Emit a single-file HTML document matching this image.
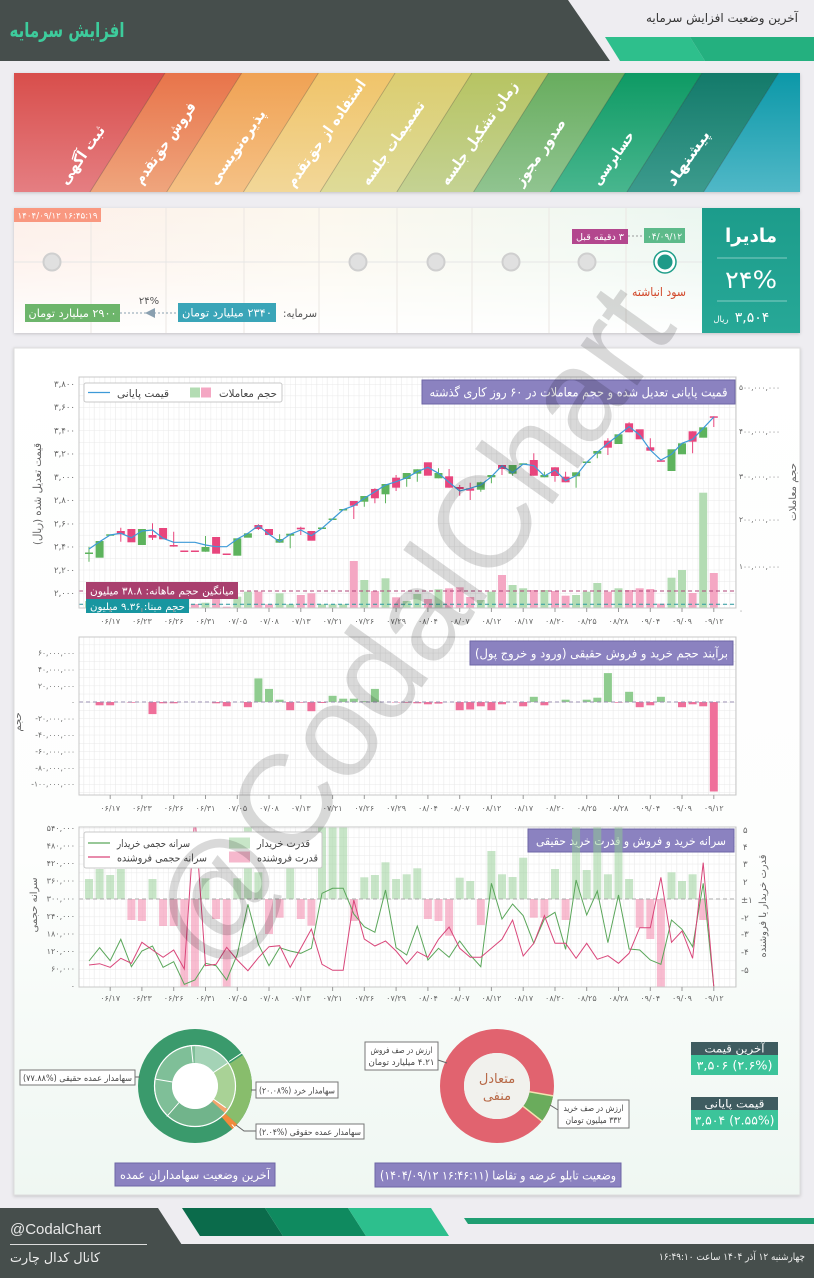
<!DOCTYPE html>
<html><head><meta charset="utf-8">
<style>
html,body{margin:0;padding:0;width:814px;height:1278px;overflow:hidden;background:#eeedf1}
svg{display:block}
.fa{font-family:"DejaVu Sans",sans-serif;direction:rtl}
.n{font-family:"DejaVu Sans",sans-serif}
</style></head><body>
<svg width="814" height="1278" viewBox="0 0 814 1278" xmlns="http://www.w3.org/2000/svg">
<defs>
<linearGradient id="r1" x1="0" y1="0" x2="0" y2="1"><stop offset="0" stop-color="#d84e4b"/><stop offset="1" stop-color="#e57e82"/></linearGradient>
<linearGradient id="r2" x1="0" y1="0" x2="0" y2="1"><stop offset="0" stop-color="#e8744a"/><stop offset="1" stop-color="#efa57d"/></linearGradient>
<linearGradient id="r3" x1="0" y1="0" x2="0" y2="1"><stop offset="0" stop-color="#f0a254"/><stop offset="1" stop-color="#f5c185"/></linearGradient>
<linearGradient id="r4" x1="0" y1="0" x2="0" y2="1"><stop offset="0" stop-color="#f0c46a"/><stop offset="1" stop-color="#f2d798"/></linearGradient>
<linearGradient id="r5" x1="0" y1="0" x2="0" y2="1"><stop offset="0" stop-color="#dccd70"/><stop offset="1" stop-color="#dedb98"/></linearGradient>
<linearGradient id="r6" x1="0" y1="0" x2="0" y2="1"><stop offset="0" stop-color="#b7c462"/><stop offset="1" stop-color="#c4d293"/></linearGradient>
<linearGradient id="r7" x1="0" y1="0" x2="0" y2="1"><stop offset="0" stop-color="#68ad5e"/><stop offset="1" stop-color="#90c490"/></linearGradient>
<linearGradient id="r8" x1="0" y1="0" x2="0" y2="1"><stop offset="0" stop-color="#0e9a64"/><stop offset="1" stop-color="#48b68e"/></linearGradient>
<linearGradient id="r9" x1="0" y1="0" x2="0" y2="1"><stop offset="0" stop-color="#137a6a"/><stop offset="1" stop-color="#3c9b8d"/></linearGradient>
<linearGradient id="r10" x1="0" y1="0" x2="0" y2="1"><stop offset="0" stop-color="#0c98a8"/><stop offset="1" stop-color="#50b8c7"/></linearGradient>
<linearGradient id="ig" x1="0" y1="0" x2="1" y2="0"><stop offset="0" stop-color="#fdefe9"/><stop offset="0.4" stop-color="#fcf8ee"/><stop offset="0.75" stop-color="#f0f8f1"/><stop offset="1" stop-color="#e5f4ee"/></linearGradient>
<linearGradient id="iw" x1="0" y1="0" x2="0" y2="1"><stop offset="0" stop-color="#fff" stop-opacity="0"/><stop offset="0.45" stop-color="#fff" stop-opacity="0.3"/><stop offset="1" stop-color="#fff" stop-opacity="0.95"/></linearGradient>
<linearGradient id="tb" x1="0" y1="0" x2="0" y2="1"><stop offset="0" stop-color="#1c9c8b"/><stop offset="1" stop-color="#27a897"/></linearGradient>
<linearGradient id="mp" x1="0" y1="0" x2="0" y2="1"><stop offset="0" stop-color="#ffffff"/><stop offset="0.6" stop-color="#fdfefd"/><stop offset="1" stop-color="#eff7f2"/></linearGradient>
<clipPath id="rb"><rect x="14" y="73" width="786" height="119"/></clipPath>
<clipPath id="c3"><rect x="79" y="827" width="657" height="160"/></clipPath>
<pattern id="g1" x="89" y="384" width="10.59" height="11.61" patternUnits="userSpaceOnUse"><path d="M0 0V11.61M5.295 0V11.61" stroke="#f1f1f1" stroke-width="1"/><path d="M0 0H10.59" stroke="#e9e9e9" stroke-width="1"/></pattern>
<pattern id="g2" x="89" y="702" width="10.59" height="8.2" patternUnits="userSpaceOnUse"><path d="M0 0V8.2M5.295 0V8.2" stroke="#f1f1f1" stroke-width="1"/><path d="M0 0H10.59" stroke="#e9e9e9" stroke-width="1"/></pattern>
<pattern id="g3" x="89" y="899" width="10.59" height="8.8" patternUnits="userSpaceOnUse"><path d="M0 0V8.8M5.295 0V8.8" stroke="#f1f1f1" stroke-width="1"/><path d="M0 0H10.59" stroke="#e9e9e9" stroke-width="1"/></pattern>
<filter id="sh" x="-5%" y="-5%" width="110%" height="110%"><feDropShadow dx="0" dy="1" stdDeviation="1.5" flood-color="#000" flood-opacity="0.18"/></filter>
</defs>

<rect width="814" height="1278" fill="#eeedf1"/>

<!-- HEADER -->
<polygon points="0,0 568,0 610,61 0,61" fill="#464e4c"/>
<polygon points="605,37 690,37 705,61 620,61" fill="#2ebf8c"/>
<polygon points="690,37 814,37 814,61 705,61" fill="#24b07f"/>
<text x="67" y="37" text-anchor="middle" class="fa" font-size="20" font-weight="bold" fill="#3dcc9c" textLength="115" lengthAdjust="spacingAndGlyphs">افزایش سرمایه</text>
<text x="722" y="22" text-anchor="middle" class="fa" font-size="12" fill="#333" textLength="152" lengthAdjust="spacingAndGlyphs">آخرین وضعیت افزایش سرمایه</text>

<!-- RAINBOW -->
<rect x="14" y="73" width="786" height="119" fill="#fff" filter="url(#sh)"/>
<g clip-path="url(#rb)">
<polygon points="0,73 165,73 90,192 0,192" fill="url(#r1)"/>
<polygon points="165,73 241.7,73 166.7,192 90,192" fill="url(#r2)"/>
<polygon points="241.7,73 318.4,73 243.4,192 166.7,192" fill="url(#r3)"/>
<polygon points="318.4,73 395.1,73 320.1,192 243.4,192" fill="url(#r4)"/>
<polygon points="395.1,73 471.8,73 396.8,192 320.1,192" fill="url(#r5)"/>
<polygon points="471.8,73 548.5,73 473.5,192 396.8,192" fill="url(#r6)"/>
<polygon points="548.5,73 625.2,73 550.2,192 473.5,192" fill="url(#r7)"/>
<polygon points="625.2,73 701.9,73 626.9,192 550.2,192" fill="url(#r8)"/>
<polygon points="701.9,73 778.6,73 703.6,192 626.9,192" fill="url(#r9)"/>
<polygon points="778.6,73 820,73 820,192 703.6,192" fill="url(#r10)"/>
<path d="M165,73L90,192M241.7,73L166.7,192M318.4,73L243.4,192M395.1,73L320.1,192M471.8,73L396.8,192M548.5,73L473.5,192M625.2,73L550.2,192M701.9,73L626.9,192M778.6,73L703.6,192" stroke="#000" stroke-opacity="0.25" stroke-width="0.8"/>
</g>
<g class="fa" font-size="15" font-weight="bold" fill="#fff" text-anchor="middle">
<text transform="translate(82,155) rotate(-55)" y="5" textLength="68" lengthAdjust="spacingAndGlyphs">ثبت آگهی</text>
<text transform="translate(165,143) rotate(-55)" y="5" textLength="96" lengthAdjust="spacingAndGlyphs">فروش حق‌تقدم</text>
<text transform="translate(237,147) rotate(-55)" y="5" textLength="88" lengthAdjust="spacingAndGlyphs">پذیره‌نویسی</text>
<text transform="translate(326,133) rotate(-55)" y="5" textLength="127" lengthAdjust="spacingAndGlyphs">استفاده از حق‌تقدم</text>
<text transform="translate(393,143) rotate(-55)" y="5" textLength="99" lengthAdjust="spacingAndGlyphs">تصمیمات جلسه</text>
<text transform="translate(479,133) rotate(-55)" y="5" textLength="123" lengthAdjust="spacingAndGlyphs">زمان تشکیل جلسه</text>
<text transform="translate(540,152) rotate(-55)" y="5" textLength="78" lengthAdjust="spacingAndGlyphs">صدور مجوز</text>
<text transform="translate(613,158) rotate(-55)" y="5" textLength="62" lengthAdjust="spacingAndGlyphs">حسابرسی</text>
<text transform="translate(688,158) rotate(-55)" y="5" textLength="64" lengthAdjust="spacingAndGlyphs">پیشنهاد</text>
</g>

<!-- INFO PANEL -->
<rect x="14" y="208" width="786" height="125" fill="url(#ig)" filter="url(#sh)"/>
<rect x="14" y="208" width="688" height="125" fill="url(#iw)"/>
<path d="M91,208V333M166,208V333M244,208V333M319,208V333M397,208V333M472,208V333M549,208V333M626,208V333" stroke="#ebe7e3" stroke-width="1"/>
<path d="M14,262H702" stroke="#e6e6e6" stroke-width="1"/>
<g fill="#e0e0e0" stroke="#cfcfcf" stroke-width="2">
<circle cx="52" cy="262" r="8.5"/><circle cx="358" cy="262" r="8.5"/><circle cx="436" cy="262" r="8.5"/><circle cx="511" cy="262" r="8.5"/><circle cx="587" cy="262" r="8.5"/>
</g>
<circle cx="665" cy="262" r="11" fill="#fff" stroke="#1f9e8a" stroke-width="1.5"/>
<circle cx="665" cy="262" r="7.5" fill="#1e9a88"/>
<path d="M628,236H644" stroke="#999" stroke-dasharray="2,2"/>
<rect x="644" y="228" width="41" height="15" fill="#5dba8a"/>
<text x="664.5" y="239.5" text-anchor="middle" class="n" font-size="9" fill="#fff">۰۴/۰۹/۱۲</text>
<rect x="572" y="229" width="56" height="15" fill="#b3478e"/>
<text x="600" y="240" text-anchor="middle" class="fa" font-size="9.5" fill="#fff" textLength="48" lengthAdjust="spacingAndGlyphs">۳ دقیقه قبل</text>
<text x="659" y="296" text-anchor="middle" class="fa" font-size="12" fill="#d24a2c" textLength="54" lengthAdjust="spacingAndGlyphs">سود انباشته</text>
<rect x="14" y="208" width="87" height="14" fill="#f99880"/>
<text x="57.5" y="218.5" text-anchor="middle" class="n" font-size="8.5" fill="#fff" textLength="80" lengthAdjust="spacingAndGlyphs">۱۴۰۴/۰۹/۱۲ ۱۶:۴۵:۱۹</text>
<text x="300" y="317" text-anchor="middle" class="fa" font-size="11" fill="#555" textLength="34" lengthAdjust="spacingAndGlyphs">سرمایه:</text>
<rect x="178" y="303" width="98" height="19" fill="#3aa5b8"/>
<text x="227" y="316.5" text-anchor="middle" class="fa" font-size="11" fill="#fff" textLength="90" lengthAdjust="spacingAndGlyphs">۲۳۴۰ میلیارد تومان</text>
<path d="M120,313H146M154,313H178" stroke="#8aa0b0" stroke-dasharray="2,2"/>
<polygon points="145,313 155,308 155,318" fill="#8aa0b0"/>
<text x="149" y="304" text-anchor="middle" class="n" font-size="10" fill="#555">۲۴%</text>
<rect x="25" y="304" width="95" height="18" fill="#6db56b"/>
<text x="72.5" y="317" text-anchor="middle" class="fa" font-size="11" fill="#fff" textLength="88" lengthAdjust="spacingAndGlyphs">۲۹۰۰ میلیارد تومان</text>
<rect x="702" y="208" width="98" height="125" fill="url(#tb)"/>
<path d="M717,258H787M717,301H787" stroke="#fff" stroke-opacity="0.45" stroke-width="1"/>
<text x="751" y="242" text-anchor="middle" class="fa" font-size="19" font-weight="bold" fill="#fff" textLength="52" lengthAdjust="spacingAndGlyphs">مادیرا</text>
<text x="751" y="288" text-anchor="middle" class="n" font-size="24" fill="#fff" textLength="52" lengthAdjust="spacingAndGlyphs">۲۴%</text>
<text x="752" y="322" text-anchor="middle" class="n" font-size="14" fill="#fff">۳,۵۰۴</text>
<text x="721" y="322" text-anchor="middle" class="fa" font-size="8.5" fill="#fff">ریال</text>

<!-- MAIN PANEL -->
<rect x="14" y="348" width="786" height="847" fill="url(#mp)" stroke="#dedede" filter="url(#sh)"/>

<!-- CHART 1 -->
<rect x="79" y="377" width="657" height="231" fill="#fff"/>
<rect x="79" y="377" width="657" height="231" fill="url(#g1)"/>
<g fill="#b3dcb3">
<rect x="85" y="601" width="8" height="7.5"/><rect x="95.6" y="598" width="8" height="10.5"/><rect x="106.2" y="603" width="8" height="5.5"/><rect x="137.9" y="598" width="8" height="10.5"/>
<rect x="201.5" y="602.7" width="8" height="5.8"/><rect x="233.3" y="596.7" width="8" height="11.8"/><rect x="243.9" y="591.7" width="8" height="16.8"/><rect x="275.6" y="593.3" width="8" height="15.2"/><rect x="286.2" y="604.3" width="8" height="4.2"/>
<rect x="318" y="604.3" width="8" height="4.2"/><rect x="328.6" y="604.3" width="8" height="4.2"/><rect x="339.2" y="604.3" width="8" height="4.2"/><rect x="360.3" y="580" width="8" height="28.5"/><rect x="381.5" y="578.3" width="8" height="30.2"/>
<rect x="402.7" y="601" width="8" height="7.5"/><rect x="413.3" y="594" width="8" height="14.5"/><rect x="434.5" y="589.3" width="8" height="19.2"/><rect x="476.8" y="600" width="8" height="8.5"/><rect x="487.4" y="591.7" width="8" height="16.8"/>
<rect x="508.6" y="585" width="8" height="23.5"/><rect x="519.2" y="588.3" width="8" height="20.2"/><rect x="540.4" y="590" width="8" height="18.5"/><rect x="572.1" y="595" width="8" height="13.5"/><rect x="582.7" y="591.7" width="8" height="16.8"/>
<rect x="593.3" y="583" width="8" height="25.5"/><rect x="614.5" y="588.3" width="8" height="20.2"/><rect x="667.5" y="577.7" width="8" height="30.8"/><rect x="678" y="570" width="8" height="38.5"/><rect x="699.2" y="492.7" width="8" height="115.8"/>
</g>
<g fill="#f4a7c3">
<rect x="116.8" y="600" width="8" height="8.5"/><rect x="127.4" y="596" width="8" height="12.5"/><rect x="148.5" y="601" width="8" height="7.5"/><rect x="159.1" y="597" width="8" height="11.5"/><rect x="169.7" y="603" width="8" height="5.5"/>
<rect x="180.3" y="604" width="8" height="4.5"/><rect x="190.9" y="604" width="8" height="4.5"/><rect x="212.1" y="598.3" width="8" height="10.2"/><rect x="222.7" y="606.7" width="8" height="1.8"/><rect x="254.4" y="591.7" width="8" height="16.8"/>
<rect x="265" y="604.3" width="8" height="4.2"/><rect x="296.8" y="595" width="8" height="13.5"/><rect x="307.4" y="593.3" width="8" height="15.2"/><rect x="349.8" y="561" width="8" height="47.5"/><rect x="370.9" y="591" width="8" height="17.5"/>
<rect x="392.1" y="597.3" width="8" height="11.2"/><rect x="423.9" y="599" width="8" height="9.5"/><rect x="445.1" y="588.3" width="8" height="20.2"/><rect x="455.7" y="587.3" width="8" height="21.2"/><rect x="466.2" y="597" width="8" height="11.5"/>
<rect x="498" y="575" width="8" height="33.5"/><rect x="529.8" y="590" width="8" height="18.5"/><rect x="551" y="591" width="8" height="17.5"/><rect x="561.6" y="595.7" width="8" height="12.8"/><rect x="603.9" y="591.7" width="8" height="16.8"/>
<rect x="625.1" y="590" width="8" height="18.5"/><rect x="635.7" y="588.3" width="8" height="20.2"/><rect x="646.3" y="589" width="8" height="19.5"/><rect x="656.9" y="603.7" width="8" height="4.8"/><rect x="688.6" y="593" width="8" height="15.5"/><rect x="709.8" y="573" width="8" height="35.5"/>
</g>
<path d="M79,591H736" stroke="#b0457a" stroke-dasharray="4,3" stroke-width="1"/>
<path d="M79,604.3H736" stroke="#2a9aa0" stroke-dasharray="4,3" stroke-width="1"/>
<!-- wicks -->
<path stroke="#5db35d" stroke-width="1" d="M89,546.7V561.7M205.5,536V551.7M279.6,534.3V542.7M290.2,533.7V548.3M364.3,496V506.7M385.5,484V503.3M406.7,473V486.7M417.3,469.3V481.7M438.5,468.3V478.3M480.8,481.7V491.7M491.4,475V483.3M512.6,465V475.7M544.4,471.7V477.3M576.1,472.3V487.7M597.3,451V458.3"/>
<path stroke="#e8457d" stroke-width="1" d="M120.8,527.7V541.7M152.5,523.3V540M173.7,531.7V546.7M258.4,524.3V530M300.8,526.7V535M353.8,501V519M374.9,488.3V503.3M396.1,475V491M449.1,469V487.7M459.7,485V495.7M470.2,482.7V500M502,465V475M533.8,453.3V475.7M555,467.3V481.7M565.6,471.7V482.3M607.9,438.3V455M629.1,422.3V432.3M650.3,438.3V450.7M692.6,431.3V453.3M713.8,416.3V427"/>
<g fill="#5db35d">
<rect x="85" y="552.5" width="8" height="1.5"/><rect x="95.6" y="541" width="8" height="16.7"/><rect x="106.2" y="534.3" width="8" height="1.5"/><rect x="137.9" y="529" width="8" height="16"/>
<rect x="201.5" y="547" width="8" height="4.7"/><rect x="233.3" y="538.3" width="8" height="17.4"/><rect x="243.9" y="533.3" width="8" height="4.4"/><rect x="275.6" y="539" width="8" height="3.7"/><rect x="286.2" y="533.7" width="8" height="2"/>
<rect x="318" y="527.5" width="8" height="1.5"/><rect x="328.6" y="518.5" width="8" height="1.5"/><rect x="339.2" y="509" width="8" height="1.5"/><rect x="360.3" y="496" width="8" height="5.7"/><rect x="381.5" y="484" width="8" height="10.3"/>
<rect x="402.7" y="473" width="8" height="6"/><rect x="413.3" y="469.3" width="8" height="4.4"/><rect x="434.5" y="473" width="8" height="5.3"/><rect x="476.8" y="482.3" width="8" height="7.4"/><rect x="487.4" y="475" width="8" height="2.3"/>
<rect x="508.6" y="465" width="8" height="8.7"/><rect x="519.2" y="463.3" width="8" height="1.5"/><rect x="540.4" y="475" width="8" height="2.3"/><rect x="572.1" y="472.3" width="8" height="4"/><rect x="582.7" y="461.5" width="8" height="1.5"/>
<rect x="593.3" y="451" width="8" height="2.7"/><rect x="614.5" y="434.3" width="8" height="9.7"/><rect x="667.5" y="449.3" width="8" height="21.7"/><rect x="678" y="443.3" width="8" height="11"/><rect x="699.2" y="427.3" width="8" height="10.4"/>
</g>
<g fill="#e8457d">
<rect x="116.8" y="531" width="8" height="3.3"/><rect x="127.4" y="529" width="8" height="13.3"/><rect x="148.5" y="535" width="8" height="2.7"/><rect x="159.1" y="528" width="8" height="11.3"/><rect x="169.7" y="545" width="8" height="1.5"/>
<rect x="180.3" y="550.5" width="8" height="1.5"/><rect x="190.9" y="550.5" width="8" height="1.5"/><rect x="212.1" y="537" width="8" height="16.7"/><rect x="222.7" y="553.5" width="8" height="1.5"/><rect x="254.4" y="525" width="8" height="4"/>
<rect x="265" y="529" width="8" height="6"/><rect x="296.8" y="527.7" width="8" height="1.6"/><rect x="307.4" y="531" width="8" height="9.7"/><rect x="349.8" y="501" width="8" height="4.7"/><rect x="370.9" y="489" width="8" height="9.3"/>
<rect x="392.1" y="477.7" width="8" height="10"/><rect x="423.9" y="462.3" width="8" height="13.4"/><rect x="445.1" y="476.3" width="8" height="11.4"/><rect x="455.7" y="487" width="8" height="2"/><rect x="466.2" y="488.3" width="8" height="2.4"/>
<rect x="498" y="465" width="8" height="4"/><rect x="529.8" y="460" width="8" height="15.7"/><rect x="551" y="467.3" width="8" height="8.7"/><rect x="561.6" y="476.7" width="8" height="5.6"/><rect x="603.9" y="440.7" width="8" height="7"/>
<rect x="625.1" y="423.3" width="8" height="9"/><rect x="635.7" y="429.3" width="8" height="10"/><rect x="646.3" y="447.3" width="8" height="3.4"/><rect x="656.9" y="460.3" width="8" height="1.5"/><rect x="688.6" y="431.3" width="8" height="10.4"/><rect x="709.8" y="416.3" width="8" height="1.5"/>
</g>
<polyline fill="none" stroke="#3d9ad8" stroke-width="1.2" points="89,549 99.6,541.7 110.2,535 120.8,533.3 131.4,537.7 141.9,531 152.5,530 163.1,538.3 173.7,542.3 184.3,542.3 194.9,542.3 205.5,545 216.1,546.7 226.7,546.7 237.3,539 247.9,533.3 258.4,525.7 269,534.3 279.6,541.7 290.2,534.3 300.8,530 311.4,535.7 322,528.3 332.6,519 343.2,509.7 353.8,505.7 364.3,498.3 374.9,491.7 385.5,485 396.1,481.7 406.7,477.7 417.3,471.7 427.9,467.3 438.5,473.3 449.1,482.3 459.7,491 470.2,488.3 480.8,485 491.4,476.7 502,465.7 512.6,472.7 523.2,464 533.8,465.7 544.4,476 555,470 565.6,480.7 576.1,475.7 586.7,462.3 597.3,452.3 607.9,443.3 618.5,435 629.1,426.7 639.7,435 650.3,450 660.9,460 671.5,454.3 682,443.3 692.6,439.3 703.2,428.3 713.8,417"/>
<rect x="79" y="377" width="657" height="231" fill="none" stroke="#c8c8c8"/>
<!-- legend 1 -->
<rect x="84" y="383" width="198" height="19" rx="2" fill="#fff" stroke="#c8c8c8"/>
<path d="M88,392.5H110" stroke="#3d9ad8" stroke-width="1.3"/>
<text x="143" y="397" text-anchor="middle" class="fa" font-size="10.5" fill="#444" textLength="52" lengthAdjust="spacingAndGlyphs">قیمت پایانی</text>
<rect x="190" y="387.5" width="10" height="10" fill="#b3dcb3"/><rect x="201" y="387.5" width="10" height="10" fill="#f4a7c3"/>
<text x="248" y="397" text-anchor="middle" class="fa" font-size="10.5" fill="#444" textLength="58" lengthAdjust="spacingAndGlyphs">حجم معاملات</text>
<!-- title 1 -->
<rect x="422" y="380" width="313" height="24" fill="#8b82c0" stroke="#6e66a6"/>
<text x="578.5" y="396.5" text-anchor="middle" class="fa" font-size="12.5" fill="#fff" textLength="298" lengthAdjust="spacingAndGlyphs">قمیت پایانی تعدیل شده و حجم معاملات در ۶۰ روز کاری گذشته</text>
<!-- labels -->
<rect x="86" y="582" width="152" height="17" fill="#a93f6e"/>
<text x="162" y="594.5" text-anchor="middle" class="fa" font-size="10.5" fill="#fff" textLength="144" lengthAdjust="spacingAndGlyphs">میانگین حجم ماهانه: ۳۸.۸ میلیون</text>
<rect x="86" y="599" width="103" height="14" fill="#1896a0"/>
<text x="137.5" y="610" text-anchor="middle" class="fa" font-size="10" fill="#fff" textLength="95" lengthAdjust="spacingAndGlyphs">حجم مبنا: ۹.۳۶ میلیون</text>
<!-- axes 1 -->
<g class="n" font-size="8.5" fill="#666" text-anchor="end">
<text x="75" y="387">۳,۸۰۰</text><text x="75" y="410.2">۳,۶۰۰</text><text x="75" y="433.4">۳,۴۰۰</text><text x="75" y="456.7">۳,۲۰۰</text><text x="75" y="479.9">۳,۰۰۰</text>
<text x="75" y="503.1">۲,۸۰۰</text><text x="75" y="526.3">۲,۶۰۰</text><text x="75" y="549.6">۲,۴۰۰</text><text x="75" y="572.8">۲,۲۰۰</text><text x="75" y="596">۲,۰۰۰</text>
</g>
<g class="n" font-size="7.5" fill="#666">
<text x="739" y="390">۵۰۰,۰۰۰,۰۰۰</text><text x="739" y="434">۴۰۰,۰۰۰,۰۰۰</text><text x="739" y="479">۳۰۰,۰۰۰,۰۰۰</text><text x="739" y="522">۲۰۰,۰۰۰,۰۰۰</text><text x="739" y="569">۱۰۰,۰۰۰,۰۰۰</text><text x="739" y="613">۰</text>
</g>
<text transform="translate(41,494) rotate(-90)" text-anchor="middle" class="fa" font-size="11" fill="#666" textLength="102" lengthAdjust="spacingAndGlyphs">قیمت تعدیل شده (ریال)</text>
<text transform="translate(796,492) rotate(-90)" text-anchor="middle" class="fa" font-size="10" fill="#666" textLength="58" lengthAdjust="spacingAndGlyphs">حجم معاملات</text>
<path stroke="#999" d="M110.2,608V612M141.9,608V612M173.7,608V612M205.5,608V612M237.3,608V612M269,608V612M300.8,608V612M332.6,608V612M364.3,608V612M396.1,608V612M427.9,608V612M459.7,608V612M491.4,608V612M523.2,608V612M555,608V612M586.7,608V612M618.5,608V612M650.3,608V612M682,608V612M713.8,608V612"/>
<g class="n" font-size="8" fill="#666" text-anchor="middle">
<text x="110.2" y="624">۰۶/۱۷</text><text x="141.9" y="624">۰۶/۲۳</text><text x="173.7" y="624">۰۶/۲۶</text><text x="205.5" y="624">۰۶/۳۱</text><text x="237.3" y="624">۰۷/۰۵</text><text x="269" y="624">۰۷/۰۸</text><text x="300.8" y="624">۰۷/۱۳</text><text x="332.6" y="624">۰۷/۲۱</text><text x="364.3" y="624">۰۷/۲۶</text><text x="396.1" y="624">۰۷/۲۹</text>
<text x="427.9" y="624">۰۸/۰۴</text><text x="459.7" y="624">۰۸/۰۷</text><text x="491.4" y="624">۰۸/۱۲</text><text x="523.2" y="624">۰۸/۱۷</text><text x="555" y="624">۰۸/۲۰</text><text x="586.7" y="624">۰۸/۲۵</text><text x="618.5" y="624">۰۸/۲۸</text><text x="650.3" y="624">۰۹/۰۴</text><text x="682" y="624">۰۹/۰۹</text><text x="713.8" y="624">۰۹/۱۲</text>
</g>

<!-- CHART 2 -->
<rect x="79" y="637" width="657" height="158" fill="#fff"/>
<rect x="79" y="637" width="657" height="158" fill="url(#g2)"/>
<rect x="470" y="641" width="263" height="24" fill="#8b82c0" stroke="#6e66a6"/>
<text x="601.5" y="657.5" text-anchor="middle" class="fa" font-size="12" fill="#fff" textLength="253" lengthAdjust="spacingAndGlyphs">برآیند حجم خرید و فروش حقیقی (ورود و خروج پول)</text>
<g fill="#8fcc8f">
<rect x="254.4" y="678.4" width="8" height="23.6"/><rect x="265" y="688.9" width="8" height="13.1"/><rect x="275.6" y="699.7" width="8" height="2.3"/><rect x="328.6" y="695.8" width="8" height="6.2"/><rect x="339.2" y="698.7" width="8" height="3.3"/>
<rect x="349.8" y="698.7" width="8" height="3.3"/><rect x="360.3" y="701.3" width="8" height="0.7"/><rect x="370.9" y="688.9" width="8" height="13.1"/><rect x="529.8" y="696.8" width="8" height="5.2"/><rect x="561.6" y="699.7" width="8" height="2.3"/>
<rect x="582.7" y="699.7" width="8" height="2.3"/><rect x="593.3" y="697.7" width="8" height="4.3"/><rect x="603.9" y="673.1" width="8" height="28.9"/><rect x="625.1" y="691.8" width="8" height="10.2"/><rect x="656.9" y="696.8" width="8" height="5.2"/>
</g>
<g fill="#ef6f9a">
<rect x="95.6" y="702" width="8" height="3.3"/><rect x="106.2" y="702" width="8" height="3.3"/><rect x="127.4" y="702" width="8" height="0.7"/><rect x="148.5" y="702" width="8" height="12.1"/><rect x="159.1" y="702" width="8" height="1.3"/>
<rect x="169.7" y="702" width="8" height="1.3"/><rect x="212.1" y="702" width="8" height="1.3"/><rect x="222.7" y="702" width="8" height="4.3"/><rect x="243.9" y="702" width="8" height="5.2"/><rect x="286.2" y="702" width="8" height="8.2"/>
<rect x="296.8" y="702" width="8" height="0.7"/><rect x="307.4" y="702" width="8" height="9.2"/><rect x="318" y="702" width="8" height="1"/><rect x="392.1" y="702" width="8" height="0.5"/><rect x="402.7" y="702" width="8" height="0.7"/>
<rect x="413.3" y="702" width="8" height="1.3"/><rect x="423.9" y="702" width="8" height="2.3"/><rect x="434.5" y="702" width="8" height="1.6"/><rect x="455.7" y="702" width="8" height="8.2"/><rect x="466.2" y="702" width="8" height="7.5"/>
<rect x="476.8" y="702" width="8" height="4.3"/><rect x="487.4" y="702" width="8" height="8.2"/><rect x="498" y="702" width="8" height="2.3"/><rect x="519.2" y="702" width="8" height="4.3"/><rect x="540.4" y="702" width="8" height="3.3"/>
<rect x="614.5" y="702" width="8" height="0.7"/><rect x="635.7" y="702" width="8" height="5.2"/><rect x="646.3" y="702" width="8" height="3.3"/><rect x="678" y="702" width="8" height="5.2"/><rect x="688.6" y="702" width="8" height="2.3"/>
<rect x="699.2" y="702" width="8" height="4.3"/><rect x="709.8" y="702" width="8" height="89.5"/>
</g>
<path d="M79,702H736" stroke="#9a8fb0" stroke-dasharray="4,3"/>
<rect x="79" y="637" width="657" height="158" fill="none" stroke="#c8c8c8"/>
<g class="n" font-size="7.5" fill="#666" text-anchor="end">
<text x="75" y="655.5">۶۰,۰۰۰,۰۰۰</text><text x="75" y="671.9">۴۰,۰۰۰,۰۰۰</text><text x="75" y="688.3">۲۰,۰۰۰,۰۰۰</text><text x="75" y="704.7">۰</text><text x="75" y="721.1">-۲۰,۰۰۰,۰۰۰</text>
<text x="75" y="737.5">-۴۰,۰۰۰,۰۰۰</text><text x="75" y="753.9">-۶۰,۰۰۰,۰۰۰</text><text x="75" y="770.3">-۸۰,۰۰۰,۰۰۰</text><text x="75" y="786.7">-۱۰۰,۰۰۰,۰۰۰</text>
</g>
<text transform="translate(21,722) rotate(-90)" text-anchor="middle" class="fa" font-size="10" fill="#666">حجم</text>
<path stroke="#999" d="M110.2,795V799M141.9,795V799M173.7,795V799M205.5,795V799M237.3,795V799M269,795V799M300.8,795V799M332.6,795V799M364.3,795V799M396.1,795V799M427.9,795V799M459.7,795V799M491.4,795V799M523.2,795V799M555,795V799M586.7,795V799M618.5,795V799M650.3,795V799M682,795V799M713.8,795V799"/>
<g class="n" font-size="8" fill="#666" text-anchor="middle">
<text x="110.2" y="811">۰۶/۱۷</text><text x="141.9" y="811">۰۶/۲۳</text><text x="173.7" y="811">۰۶/۲۶</text><text x="205.5" y="811">۰۶/۳۱</text><text x="237.3" y="811">۰۷/۰۵</text><text x="269" y="811">۰۷/۰۸</text><text x="300.8" y="811">۰۷/۱۳</text><text x="332.6" y="811">۰۷/۲۱</text><text x="364.3" y="811">۰۷/۲۶</text><text x="396.1" y="811">۰۷/۲۹</text>
<text x="427.9" y="811">۰۸/۰۴</text><text x="459.7" y="811">۰۸/۰۷</text><text x="491.4" y="811">۰۸/۱۲</text><text x="523.2" y="811">۰۸/۱۷</text><text x="555" y="811">۰۸/۲۰</text><text x="586.7" y="811">۰۸/۲۵</text><text x="618.5" y="811">۰۸/۲۸</text><text x="650.3" y="811">۰۹/۰۴</text><text x="682" y="811">۰۹/۰۹</text><text x="713.8" y="811">۰۹/۱۲</text>
</g>

<!-- CHART 3 -->
<rect x="79" y="827" width="657" height="160" fill="#fff"/>
<rect x="79" y="827" width="657" height="160" fill="url(#g3)"/>
<rect x="528" y="829" width="206" height="23" fill="#8b82c0" stroke="#6e66a6"/>
<text x="631" y="845" text-anchor="middle" class="fa" font-size="12" fill="#fff" textLength="190" lengthAdjust="spacingAndGlyphs">سرانه خرید و فروش و قدرت خرید حقیقی</text>
<g fill="#90cc90" fill-opacity="0.5">
<rect x="85" y="879" width="8" height="20"/><rect x="95.6" y="869" width="8" height="30"/><rect x="106.2" y="875" width="8" height="24"/><rect x="116.8" y="869" width="8" height="30"/><rect x="148.5" y="879" width="8" height="20"/>
<rect x="201.5" y="878.3" width="8" height="20.7"/><rect x="233.3" y="878.3" width="8" height="20.7"/><rect x="243.9" y="827" width="8" height="72"/><rect x="254.4" y="872.3" width="8" height="26.7"/><rect x="286.2" y="865" width="8" height="34"/>
<rect x="318" y="827" width="8" height="72"/><rect x="328.6" y="827" width="8" height="72"/><rect x="339.2" y="827" width="8" height="72"/><rect x="360.3" y="877.3" width="8" height="21.7"/><rect x="370.9" y="875" width="8" height="24"/>
<rect x="381.5" y="862.3" width="8" height="36.7"/><rect x="392.1" y="879" width="8" height="20"/><rect x="402.7" y="874.3" width="8" height="24.7"/><rect x="413.3" y="868.3" width="8" height="30.7"/><rect x="455.7" y="877.7" width="8" height="21.3"/>
<rect x="466.2" y="881" width="8" height="18"/><rect x="487.4" y="851" width="8" height="48"/><rect x="498" y="874.3" width="8" height="24.7"/><rect x="508.6" y="877" width="8" height="22"/><rect x="519.2" y="857.7" width="8" height="41.3"/>
<rect x="551" y="869" width="8" height="30"/><rect x="572.1" y="827" width="8" height="72"/><rect x="582.7" y="870" width="8" height="29"/><rect x="593.3" y="827" width="8" height="72"/><rect x="603.9" y="874.3" width="8" height="24.7"/>
<rect x="614.5" y="827" width="8" height="72"/><rect x="625.1" y="879" width="8" height="20"/><rect x="667.5" y="872.3" width="8" height="26.7"/><rect x="678" y="881" width="8" height="18"/><rect x="688.6" y="874.3" width="8" height="24.7"/>
</g>
<g fill="#f17aa1" fill-opacity="0.5">
<rect x="127.4" y="899" width="8" height="21"/><rect x="137.9" y="899" width="8" height="22"/><rect x="159.1" y="899" width="8" height="27"/><rect x="169.7" y="899" width="8" height="27"/><rect x="180.3" y="899" width="8" height="88"/>
<rect x="190.9" y="899" width="8" height="88"/><rect x="212.1" y="899" width="8" height="20"/><rect x="222.7" y="899" width="8" height="88"/><rect x="265" y="899" width="8" height="35"/><rect x="275.6" y="899" width="8" height="18.7"/>
<rect x="296.8" y="899" width="8" height="20"/><rect x="307.4" y="899" width="8" height="26.7"/><rect x="349.8" y="899" width="8" height="22"/><rect x="423.9" y="899" width="8" height="20"/><rect x="434.5" y="899" width="8" height="22"/>
<rect x="445.1" y="899" width="8" height="36.7"/><rect x="476.8" y="899" width="8" height="26"/><rect x="529.8" y="899" width="8" height="18.7"/><rect x="540.4" y="899" width="8" height="18.7"/><rect x="561.6" y="899" width="8" height="21"/>
<rect x="635.7" y="899" width="8" height="28.7"/><rect x="646.3" y="899" width="8" height="40"/><rect x="656.9" y="899" width="8" height="88"/><rect x="699.2" y="899" width="8" height="21"/>
</g>
<path d="M79,899H736" stroke="#aaa" stroke-dasharray="4,3"/>
<g clip-path="url(#c3)" fill="none" stroke-width="1">
<polyline stroke="#5aa65a" points="89,961 99.6,947.7 110.2,960.7 120.8,939.3 131.4,966.7 141.9,951 152.5,946 163.1,967.3 173.7,961.7 184.3,984.3 194.9,980 205.5,963.3 216.1,965.7 226.7,980 237.3,954.3 247.9,904.3 258.4,944.3 269,965.7 279.6,947.7 290.2,951 300.8,953.3 311.4,948.3 322,893.3 332.6,888.3 343.2,888.3 353.8,914 364.3,926.7 374.9,932.3 385.5,890 396.1,947.7 406.7,955 417.3,926 427.9,960 438.5,948.3 449.1,957.3 459.7,941 470.2,955 480.8,966.7 491.4,883.3 502,919 512.6,904 523.2,915.7 533.8,943.3 544.4,919 555,912.3 565.6,949.3 576.1,880 586.7,915 597.3,891 607.9,942.7 618.5,895 629.1,949 639.7,950 650.3,960 660.9,964.3 671.5,920 682,929.3 692.6,946.7 703.2,883.3 713.8,986.7"/>
<polyline stroke="#d9467a" points="89,965 99.6,963.7 110.2,967.3 120.8,958.3 131.4,963.3 141.9,942.3 152.5,950 163.1,957.3 173.7,950 184.3,969 194.9,815 205.5,965.7 216.1,964.3 226.7,947.3 237.3,960 247.9,970.7 258.4,957.7 269,946.7 279.6,945.7 290.2,967.3 300.8,948.3 311.4,929 322,964.3 332.6,970.3 343.2,970.3 353.8,900 364.3,939 374.9,946 385.5,941 396.1,951 406.7,964 417.3,951.7 427.9,957.3 438.5,939.3 449.1,927 459.7,948.3 470.2,957.3 480.8,957.3 491.4,948.3 502,939.3 512.6,920 523.2,956 533.8,943.3 544.4,915.7 555,943.3 565.6,943.3 576.1,958.3 586.7,943.3 597.3,959.3 607.9,955.7 618.5,963.3 629.1,953.3 639.7,927.7 650.3,927.7 660.9,877.3 671.5,942.3 682,931 692.6,958.3 703.2,862.7 713.8,986.7"/>
</g>
<rect x="79" y="827" width="657" height="160" fill="none" stroke="#c8c8c8"/>
<!-- legend 3 -->
<rect x="84" y="832" width="238" height="36" rx="2" fill="#fff" stroke="#c8c8c8"/>
<path d="M88,843H110" stroke="#5aa65a" stroke-width="1.2"/>
<path d="M88,857H110" stroke="#d9467a" stroke-width="1.2"/>
<text x="153.5" y="847" text-anchor="middle" class="fa" font-size="10.5" fill="#444" textLength="73" lengthAdjust="spacingAndGlyphs">سرانه حجمی خریدار</text>
<text x="162" y="861.5" text-anchor="middle" class="fa" font-size="10.5" fill="#444" textLength="90" lengthAdjust="spacingAndGlyphs">سرانه حجمی فروشنده</text>
<rect x="229" y="837.5" width="21" height="11" fill="#c8e6c8"/>
<rect x="229" y="851.5" width="21" height="11" fill="#f6b8cd"/>
<text x="283.5" y="847" text-anchor="middle" class="fa" font-size="10.5" fill="#444" textLength="53" lengthAdjust="spacingAndGlyphs">قدرت خریدار</text>
<text x="287.5" y="861.5" text-anchor="middle" class="fa" font-size="10.5" fill="#444" textLength="61" lengthAdjust="spacingAndGlyphs">قدرت فروشنده</text>
<g class="n" font-size="8" fill="#666" text-anchor="end">
<text x="75" y="831">۵۴۰,۰۰۰</text><text x="75" y="848.6">۴۸۰,۰۰۰</text><text x="75" y="866.1">۴۲۰,۰۰۰</text><text x="75" y="883.7">۳۶۰,۰۰۰</text><text x="75" y="901.3">۳۰۰,۰۰۰</text>
<text x="75" y="918.9">۲۴۰,۰۰۰</text><text x="75" y="936.5">۱۸۰,۰۰۰</text><text x="75" y="954.1">۱۲۰,۰۰۰</text><text x="75" y="971.6">۶۰,۰۰۰</text><text x="75" y="989.2">۰</text>
</g>
<g class="n" font-size="8.5" fill="#666">
<text x="743" y="833">۵</text><text x="743" y="850">۴</text><text x="743" y="867">۳</text><text x="743" y="885">۲</text><text x="741" y="903">±۱</text>
<text x="741" y="921">-۲</text><text x="741" y="937">-۳</text><text x="741" y="955">-۴</text><text x="741" y="973">-۵</text>
</g>
<text transform="translate(37,905) rotate(-90)" text-anchor="middle" class="fa" font-size="10" fill="#666" textLength="55" lengthAdjust="spacingAndGlyphs">سرانه حجمی</text>
<text transform="translate(766,906) rotate(-90)" text-anchor="middle" class="fa" font-size="10" fill="#666" textLength="103" lengthAdjust="spacingAndGlyphs">قدرت خریدار یا فروشنده</text>
<path stroke="#999" d="M110.2,987V991M141.9,987V991M173.7,987V991M205.5,987V991M237.3,987V991M269,987V991M300.8,987V991M332.6,987V991M364.3,987V991M396.1,987V991M427.9,987V991M459.7,987V991M491.4,987V991M523.2,987V991M555,987V991M586.7,987V991M618.5,987V991M650.3,987V991M682,987V991M713.8,987V991"/>
<g class="n" font-size="8" fill="#666" text-anchor="middle">
<text x="110.2" y="1001">۰۶/۱۷</text><text x="141.9" y="1001">۰۶/۲۳</text><text x="173.7" y="1001">۰۶/۲۶</text><text x="205.5" y="1001">۰۶/۳۱</text><text x="237.3" y="1001">۰۷/۰۵</text><text x="269" y="1001">۰۷/۰۸</text><text x="300.8" y="1001">۰۷/۱۳</text><text x="332.6" y="1001">۰۷/۲۱</text><text x="364.3" y="1001">۰۷/۲۶</text><text x="396.1" y="1001">۰۷/۲۹</text>
<text x="427.9" y="1001">۰۸/۰۴</text><text x="459.7" y="1001">۰۸/۰۷</text><text x="491.4" y="1001">۰۸/۱۲</text><text x="523.2" y="1001">۰۸/۱۷</text><text x="555" y="1001">۰۸/۲۰</text><text x="586.7" y="1001">۰۸/۲۵</text><text x="618.5" y="1001">۰۸/۲۸</text><text x="650.3" y="1001">۰۹/۰۴</text><text x="682" y="1001">۰۹/۰۹</text><text x="713.8" y="1001">۰۹/۱۲</text>
</g>

<!-- DONUT 1 -->
<g transform="rotate(-90 195 1086)" fill="none">
<circle cx="195" cy="1086" r="49" stroke="#3a9a6c" stroke-width="16"/>
<circle cx="195" cy="1086" r="49" stroke="#88bd6c" stroke-width="16" stroke-dasharray="64.15 1000" stroke-dashoffset="-48.75"/>
<circle cx="195" cy="1086" r="49" stroke="#f08a3c" stroke-width="16" stroke-dasharray="5.99 1000" stroke-dashoffset="-112.9"/>
<circle cx="195" cy="1086" r="31.5" stroke="#7fbf98" stroke-width="17"/>
<circle cx="195" cy="1086" r="31.5" stroke="#9acbb0" stroke-width="17" stroke-dasharray="35.74 1000" stroke-dashoffset="153.94"/>
<circle cx="195" cy="1086" r="31.5" stroke="#a4d3b6" stroke-width="17" stroke-dasharray="32.99 1000" stroke-dashoffset="2.75"/>
<circle cx="195" cy="1086" r="31.5" stroke="#a9d296" stroke-width="17" stroke-dasharray="38.49 1000" stroke-dashoffset="-30.24"/>
<circle cx="195" cy="1086" r="31.5" stroke="#f2a46c" stroke-width="17" stroke-dasharray="3.85 1000" stroke-dashoffset="-68.72"/>
<circle cx="195" cy="1086" r="31.5" stroke="#71b48b" stroke-width="17" stroke-dasharray="51.13 1000" stroke-dashoffset="-72.57"/>
</g>
<circle cx="195" cy="1086" r="40.5" fill="none" stroke="#fff" stroke-width="1.2"/>
<path stroke="#fff" stroke-width="1" d="M229.2,1061.5L242.6,1052.6M231.8,1124.4L236,1129M191.2,1045.4L193,1062.5M213,1072.8L227.4,1063.3M211.7,1097.9L225.7,1107.7M179,1102.6L166.8,1116.4M172.5,1082L155.6,1079.1"/>
<circle cx="195" cy="1086" r="23" fill="#fff"/>
<path d="M135,1077H140" stroke="#666"/>
<rect x="20" y="1070" width="115" height="15" fill="#fff" stroke="#777"/>
<text x="77.5" y="1081" text-anchor="middle" class="fa" font-size="8.5" fill="#444" textLength="109" lengthAdjust="spacingAndGlyphs">سهامدار عمده حقیقی (%۷۷.۸۸)</text>
<path d="M251,1090H256" stroke="#666"/>
<rect x="256" y="1082" width="82" height="16" fill="#fff" stroke="#777"/>
<text x="297" y="1093.5" text-anchor="middle" class="fa" font-size="8.5" fill="#444" textLength="76" lengthAdjust="spacingAndGlyphs">سهامدار خرد (%۲۰.۰۸)</text>
<path d="M236,1125L244,1131H256" stroke="#666" fill="none"/>
<rect x="256" y="1124" width="108" height="15" fill="#fff" stroke="#777"/>
<text x="310" y="1135" text-anchor="middle" class="fa" font-size="8.5" fill="#444" textLength="102" lengthAdjust="spacingAndGlyphs">سهامدار عمده حقوقی (%۲.۰۴)</text>

<!-- DONUT 2 -->
<g transform="rotate(-90 497 1086)" fill="none">
<circle cx="497" cy="1086" r="45" stroke="#e1636f" stroke-width="24"/>
<circle cx="497" cy="1086" r="45" stroke="#6aac5c" stroke-width="24" stroke-dasharray="21.99 1000" stroke-dashoffset="-78.54"/>
</g>
<path stroke="#f3e3b0" stroke-width="1.5" d="M529.5,1091.7L553.1,1095.9M523.1,1106.3L541.9,1121.1"/>
<circle cx="497" cy="1086" r="33" fill="#f1f1ed"/>
<text x="497" y="1083" text-anchor="middle" class="fa" font-size="13" fill="#b86a48">متعادل</text>
<text x="497" y="1100" text-anchor="middle" class="fa" font-size="13" fill="#b86a48">منفی</text>
<path d="M438,1060L447,1063" stroke="#666"/>
<rect x="365" y="1042" width="73" height="28" fill="#fff" stroke="#777"/>
<text x="401.5" y="1053" text-anchor="middle" class="fa" font-size="8.5" fill="#444" textLength="62" lengthAdjust="spacingAndGlyphs">ارزش در صف فروش</text>
<text x="401.5" y="1065" text-anchor="middle" class="fa" font-size="8.5" fill="#444" textLength="66" lengthAdjust="spacingAndGlyphs">۴.۲۱ میلیارد تومان</text>
<path d="M550,1105L558,1110" stroke="#666"/>
<rect x="558" y="1100" width="71" height="28" fill="#fff" stroke="#777"/>
<text x="593.5" y="1111" text-anchor="middle" class="fa" font-size="8.5" fill="#444" textLength="60" lengthAdjust="spacingAndGlyphs">ارزش در صف خرید</text>
<text x="593.5" y="1123" text-anchor="middle" class="fa" font-size="8.5" fill="#444" textLength="56" lengthAdjust="spacingAndGlyphs">۳۳۲ میلیون تومان</text>

<!-- STAT BOXES -->
<rect x="691" y="1042" width="87" height="13" fill="#3f5c60"/>
<text x="734.5" y="1052.5" text-anchor="middle" class="fa" font-size="11" fill="#fff" textLength="60" lengthAdjust="spacingAndGlyphs">آخرین قیمت</text>
<rect x="691" y="1055" width="87" height="20" fill="#3cc49a"/>
<text x="734.5" y="1069.5" text-anchor="middle" class="n" font-size="12" fill="#fff" textLength="76" lengthAdjust="spacingAndGlyphs">۳,۵۰۶ (۲.۶%)</text>
<rect x="691" y="1097" width="87" height="13" fill="#3f5c60"/>
<text x="734.5" y="1107.5" text-anchor="middle" class="fa" font-size="11" fill="#fff" textLength="60" lengthAdjust="spacingAndGlyphs">قیمت پایانی</text>
<rect x="691" y="1110" width="87" height="20" fill="#3cc49a"/>
<text x="734.5" y="1124.5" text-anchor="middle" class="n" font-size="12" fill="#fff" textLength="80" lengthAdjust="spacingAndGlyphs">۳,۵۰۴ (۲.۵۵%)</text>

<!-- BOTTOM TITLES -->
<rect x="115" y="1163" width="160" height="23" fill="#8b82c0" stroke="#6e66a6"/>
<text x="195" y="1179" text-anchor="middle" class="fa" font-size="12" fill="#fff" textLength="150" lengthAdjust="spacingAndGlyphs">آخرین وضعیت سهامداران عمده</text>
<rect x="375" y="1163" width="246" height="24" fill="#8b82c0" stroke="#6e66a6"/>
<text x="498" y="1179.5" text-anchor="middle" class="fa" font-size="12" fill="#fff" textLength="236" lengthAdjust="spacingAndGlyphs">وضعیت تابلو عرضه و تقاضا (۱۶:۴۶:۱۱ ۱۴۰۴/۰۹/۱۲)</text>

<!-- FOOTER -->
<rect x="0" y="1244" width="814" height="34" fill="#464e4c"/>
<polygon points="0,1208 158,1208 182,1245 0,1245" fill="#464e4c"/>
<polygon points="182,1208 265,1208 283,1236 200,1236" fill="#0b6b4b"/>
<polygon points="265,1208 348,1208 366,1236 283,1236" fill="#0f8a5f"/>
<polygon points="348,1208 431,1208 449,1236 366,1236" fill="#2dbf8d"/>
<polygon points="464,1218 814,1218 814,1224 468,1224" fill="#1f9e72"/>
<text x="10" y="1234" font-family="Liberation Sans, sans-serif" font-size="15" fill="#e8e8e8">@CodalChart</text>
<path d="M10,1244.5H147" stroke="#ddd" stroke-width="1"/>
<text x="55" y="1262" text-anchor="middle" class="fa" font-size="13" fill="#eee" textLength="90" lengthAdjust="spacingAndGlyphs">کانال کدال چارت</text>
<text x="732" y="1260" text-anchor="middle" class="fa" font-size="10" fill="#eee" textLength="146" lengthAdjust="spacingAndGlyphs">چهارشنبه ۱۲ آذر ۱۴۰۴ ساعت ۱۶:۴۹:۱۰</text>

<!-- WATERMARK -->
<text transform="translate(410,625) rotate(-54.5)" text-anchor="middle" dy="0.35em" font-family="Liberation Sans, sans-serif" font-size="131" fill="#000" fill-opacity="0.15">@CodalChart</text>
</svg>
</body></html>
